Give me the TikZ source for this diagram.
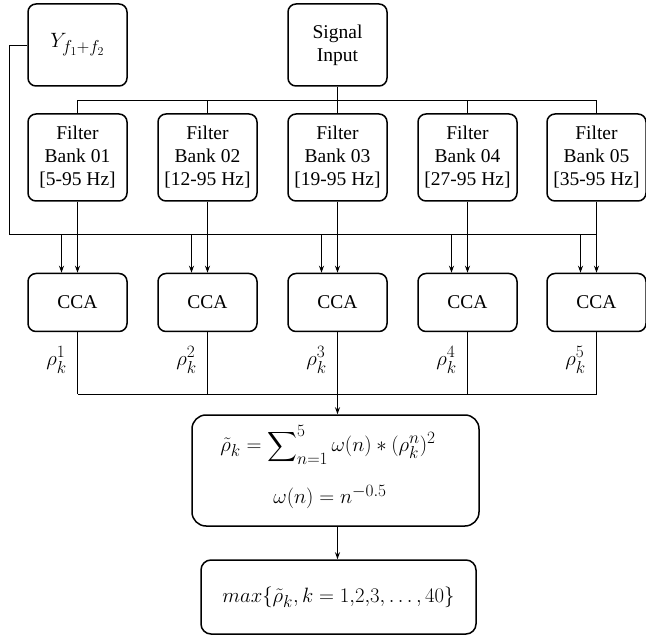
\documentclass[tikz,border=0pt]{standalone}
\usepackage{amsmath}
\usepackage{fontspec}
\setmainfont{Liberation Serif}
\DeclareMathSizes{22}{22}{16.5}{12.5}
\usetikzlibrary{arrows.meta}
\begin{document}
\begin{tikzpicture}[x=1pt,y=-1pt,
  box/.style={draw,line width=1.5pt,rounded corners=8pt,align=center,inner sep=0pt,
    font=\fontsize{19.5}{23}\selectfont},
  topbox/.style={box,minimum width=99pt,minimum height=82pt},
  fbox/.style={box,minimum width=99pt,minimum height=87pt},
  ccabox/.style={box,minimum width=99pt,minimum height=58pt},
  wire/.style={line width=1.5pt},
  arr/.style={wire,-{Stealth[length=7pt,width=5pt]}},
  mth/.style={font=\fontsize{22}{26}\selectfont,inner sep=0pt}]
\useasboundingbox (0,0) rectangle (646,639);
\node[topbox,font=\fontsize{22}{26}\selectfont] (Y) at (77.5,45) {$Y_{f_1+f_2}$};
\node[topbox] (sig) at (337.5,45) {Signal\\Input};
\foreach \i/\x/\r in {1/77.5/5-95,2/207.5/12-95,3/337.5/19-95,4/467.5/27-95,5/596.5/35-95}{
  \node[fbox] (fb\i) at (\x,157.5) {Filter\\Bank 0\i\\{}[\r{} Hz]};
  \node[ccabox] (cca\i) at (\x,302.5) {CCA};
  \coordinate (bt\i) at (\x,100.5);
  \coordinate (yb\i) at (\x-16,234.5);
  \coordinate (rb\i) at (\x,394.5);
  \node[mth] (rho\i) at (\x-21,360) {$\rho_k^{\i}$};
}
\coordinate (ycorner) at (9.5,45.5);
\coordinate (ybus) at (596.5,234.5);
\coordinate (sigbus) at (337.5,100.5);
\coordinate (rbus) at (337.5,394.5);
\node[box,minimum width=287pt,minimum height=111pt,rounded corners=14pt] (sum) at (335.5,470.5) {};
\node[mth] (f1) at (328,445) {$\tilde{\rho}_k=\displaystyle\sum\nolimits_{n=1}^{5}\omega(n)*(\rho_k^n)^2$};
\node[mth] (f2) at (330,497) {$\omega(n)=n^{-0.5}$};
\node[box,mth,minimum width=275pt,minimum height=74pt,rounded corners=10pt] (mx) at (338.5,597) {$max\{\tilde{\rho}_k,k=1{,}2{,}3,\ldots,40\}$};
% signal bus
\draw[wire] (sig.south) -- (sigbus);
\draw[wire] (bt1) -- (bt5);
\foreach \i in {1,...,5}{
  \draw[wire] (bt\i) -- (fb\i.north);
  \draw[arr] (fb\i.south) -- (cca\i.north);
  \draw[arr] (yb\i) -- (yb\i |- cca\i.north);
  \draw[wire] (cca\i.south) -- (rb\i);
}
% Y bus
\draw[wire] (Y.west |- ycorner) -- (ycorner) |- (ybus);
% rho bus
\draw[wire] (rb1) -- (rb5);
\draw[arr] (rbus) -- (rbus |- sum.north);
\draw[arr] (rbus |- sum.south) -- (rbus |- mx.north);
\end{tikzpicture}
\end{document}
